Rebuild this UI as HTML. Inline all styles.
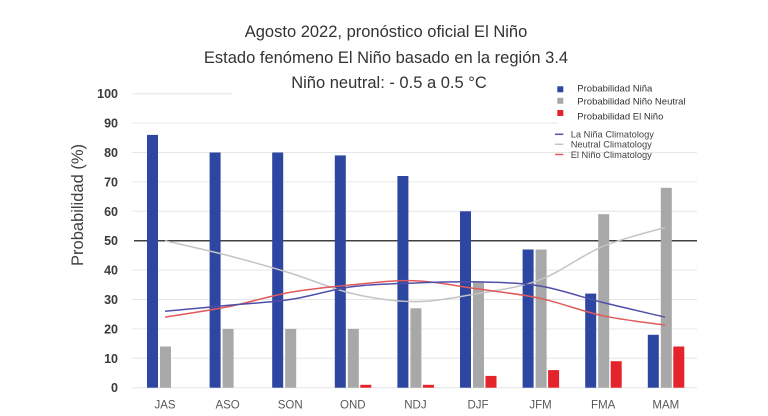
<!DOCTYPE html>
<html>
<head>
<meta charset="utf-8">
<style>
  html,body{margin:0;padding:0;background:#fff;}
  svg{display:block;}
  text{font-family:"Liberation Sans",sans-serif;}
</style>
</head>
<body>
<svg width="768" height="416" viewBox="0 0 768 416" xmlns="http://www.w3.org/2000/svg">
  <rect width="768" height="416" fill="#fff"/>

  <!-- Title -->
  <g font-size="16.5" fill="#333" text-anchor="middle">
    <text x="386" y="37">Agosto 2022, pronóstico oficial El Niño</text>
    <text x="386" y="63">Estado fenómeno El Niño basado en la región 3.4</text>
    <text x="389" y="88">Niño neutral: - 0.5 a 0.5 °C</text>
  </g>

  <!-- gridlines -->
  <g stroke="#e6e6e6" stroke-width="1">
    <line x1="132" y1="93.7" x2="232" y2="93.7"/>
    <line x1="132" y1="123.1" x2="557" y2="123.1"/>
    <line x1="132" y1="152.5" x2="697" y2="152.5"/>
    <line x1="132" y1="181.9" x2="697" y2="181.9"/>
    <line x1="132" y1="211.3" x2="697" y2="211.3"/>
    <line x1="132" y1="270.1" x2="697" y2="270.1"/>
    <line x1="132" y1="299.5" x2="697" y2="299.5"/>
    <line x1="132" y1="328.9" x2="697" y2="328.9"/>
    <line x1="132" y1="358.3" x2="697" y2="358.3"/>
    <line x1="132" y1="387.7" x2="697" y2="387.7"/>
  </g>
  <line x1="134" y1="240.7" x2="697" y2="240.7" stroke="#404040" stroke-width="1.5"/>

  <!-- Y tick labels -->
  <g font-size="12.5" font-weight="bold" fill="#3a3a3a" text-anchor="end">
    <text x="118" y="98">100</text>
    <text x="118" y="127.5">90</text>
    <text x="118" y="157">80</text>
    <text x="118" y="186.4">70</text>
    <text x="118" y="215.8">60</text>
    <text x="118" y="245.2">50</text>
    <text x="118" y="274.6">40</text>
    <text x="118" y="304">30</text>
    <text x="118" y="333.4">20</text>
    <text x="118" y="362.8">10</text>
    <text x="118" y="392.2">0</text>
  </g>

  <!-- Y axis title -->
  <text transform="translate(83,205) rotate(-90)" font-size="16.5" fill="#404040" text-anchor="middle">Probabilidad (%)</text>

  <!-- Bars -->
  <g fill="#2c46a1">
    <rect x="147" y="134.9" width="11" height="252.8"/>
    <rect x="209.6" y="152.5" width="11" height="235.2"/>
    <rect x="272.2" y="152.5" width="11" height="235.2"/>
    <rect x="334.8" y="155.4" width="11" height="232.3"/>
    <rect x="397.4" y="176.0" width="11" height="211.7"/>
    <rect x="460.0" y="211.3" width="11" height="176.4"/>
    <rect x="522.6" y="249.5" width="11" height="138.2"/>
    <rect x="585.2" y="293.6" width="11" height="94.1"/>
    <rect x="647.8" y="334.8" width="11" height="52.9"/>
  </g>
  <g fill="#a8a8a8">
    <rect x="160" y="346.5" width="11" height="41.2"/>
    <rect x="222.6" y="328.9" width="11" height="58.8"/>
    <rect x="285.2" y="328.9" width="11" height="58.8"/>
    <rect x="347.8" y="328.9" width="11" height="58.8"/>
    <rect x="410.4" y="308.3" width="11" height="79.4"/>
    <rect x="473.0" y="281.9" width="11" height="105.8"/>
    <rect x="535.6" y="249.5" width="11" height="138.2"/>
    <rect x="598.2" y="214.2" width="11" height="173.5"/>
    <rect x="660.8" y="187.8" width="11" height="199.9"/>
  </g>
  <g fill="#e5232b">
    <rect x="360.3" y="384.8" width="11" height="2.9"/>
    <rect x="422.9" y="384.8" width="11" height="2.9"/>
    <rect x="485.5" y="375.9" width="11" height="11.8"/>
    <rect x="548.1" y="370.1" width="11" height="17.6"/>
    <rect x="610.7" y="361.2" width="11" height="26.5"/>
    <rect x="673.3" y="346.5" width="11" height="41.2"/>
  </g>

  <!-- Climatology lines -->
  <g fill="none" stroke-width="1.5">
    <path stroke="#c4c4c4" d="M165,240.7 C175.4,243.2 206.7,250.0 227.5,255.4 S269.2,266.6 290,273.0 S331.7,288.8 352.5,293.6 S394.2,301.6 415,301.6 S456.7,297.2 477.5,293.6 S519.2,287.6 540,279.8 S581.7,255.3 602.5,246.6 S654.6,230.7 665,227.5"/>
    <path stroke="#e05a5a" d="M165,317.1 C175.4,315.4 206.7,311.0 227.5,306.9 S269.2,296.1 290,292.4 S331.7,286.8 352.5,284.8 S394.2,280.0 415,280.7 S456.7,286.0 477.5,288.9 S519.2,293.8 540,298.3 S581.7,311.2 602.5,315.7 S654.6,323.5 665,325.1"/>
    <path stroke="#4f4fa8" d="M165,311.3 C175.4,310.3 206.7,307.4 227.5,305.4 S269.2,302.6 290,299.5 S331.7,289.4 352.5,286.6 S394.2,283.8 415,283.0 S456.7,281.4 477.5,281.9 S519.2,282.6 540,286.0 S581.7,297.2 602.5,302.4 S654.6,314.6 665,317.1"/>
  </g>

  <!-- X labels -->
  <g font-size="11.5" fill="#595959" text-anchor="middle">
    <text x="165" y="408.5">JAS</text>
    <text x="227.6" y="408.5">ASO</text>
    <text x="290.2" y="408.5">SON</text>
    <text x="352.8" y="408.5">OND</text>
    <text x="415.4" y="408.5">NDJ</text>
    <text x="478" y="408.5">DJF</text>
    <text x="540.6" y="408.5">JFM</text>
    <text x="603.2" y="408.5">FMA</text>
    <text x="665.8" y="408.5">MAM</text>
  </g>

  <!-- Legend -->
  <rect x="557.3" y="86.3" width="6" height="6" fill="#2c46a1"/>
  <rect x="557.3" y="97.8" width="6" height="6" fill="#a8a8a8"/>
  <rect x="557.3" y="110" width="6" height="6" fill="#e5232b"/>
  <g font-size="9.5" fill="#333">
    <text x="577.3" y="91.5">Probabilidad Niña</text>
    <text x="577.3" y="104.3">Probabilidad Niño Neutral</text>
    <text x="577.3" y="119.3">Probabilidad El Niño</text>
  </g>
  <g stroke-width="1.5">
    <line x1="555" y1="134.3" x2="563.3" y2="134.3" stroke="#4f4fa8"/>
    <line x1="555" y1="144.3" x2="563.3" y2="144.3" stroke="#c4c4c4"/>
    <line x1="555" y1="154.5" x2="563.3" y2="154.5" stroke="#e05a5a"/>
  </g>
  <g font-size="9.3" fill="#444">
    <text x="570.7" y="137.6">La Niña Climatology</text>
    <text x="570.7" y="147.6">Neutral Climatology</text>
    <text x="570.7" y="157.8">El Niño Climatology</text>
  </g>
</svg>
</body>
</html>
